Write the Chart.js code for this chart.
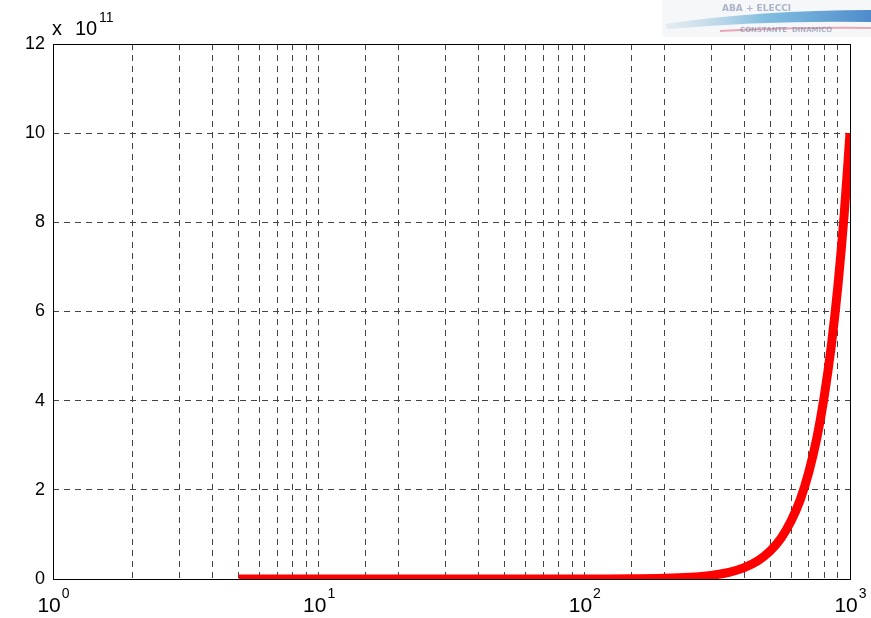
<!DOCTYPE html>
<html>
<head>
<meta charset="utf-8">
<script src="https://cdn.jsdelivr.net/npm/chart.js@4.4.0/dist/chart.umd.min.js"></script>
<style>
  html, body { margin: 0; padding: 0; background: #fff; }
  #wrap { width: 871px; height: 618px; position: relative; }
</style>
</head>
<body>
<div id="wrap"><canvas id="myChart" width="871" height="618"></canvas></div>
<script>
// x values (log axis) and y values, y in units of 10^11
let xValues = [5, 10, 20, 50, 100, 150, 200, 250, 300, 350, 400, 450, 500, 550, 600, 650, 700, 750, 800, 850, 900, 950, 1000];
let yValues = [0, 0, 0, 0.0001, 0.001, 0.005, 0.016, 0.039, 0.081, 0.15, 0.256, 0.41, 0.625, 0.915, 1.3, 1.78, 2.4, 3.16, 4.1, 5.22, 6.56, 8.15, 10.0];
let xDecades = [1, 10, 100, 1000];
let xDecadeLabels = ['0', '1', '2', '3'];
let yMultiplier = '11';

let points = xValues.map((x, i) => ({ x: x, y: yValues[i] }));
let fontFam = '"Liberation Sans", Arial, sans-serif';

// MATLAB-style box, superscript labels, and the little logo
let extras = {
    id: 'extras',
    afterDraw(chart) {
        let ctx = chart.ctx;
        let a = chart.chartArea;
        let xs = chart.scales.x;
        ctx.save();
        ctx.strokeStyle = '#000';
        ctx.lineWidth = 1;
        ctx.strokeRect(a.left + 0.5, a.top + 0.5, a.right - a.left, a.bottom - a.top);

        // x decade labels 10^n
        ctx.fillStyle = '#000';
        ctx.textBaseline = 'alphabetic';
        ctx.textAlign = 'left';
        xDecades.forEach((d, i) => {
            let px = xs.getPixelForValue(d);
            ctx.font = '21px ' + fontFam;
            let w1 = ctx.measureText('10').width;
            ctx.font = '14px ' + fontFam;
            let w2 = ctx.measureText(xDecadeLabels[i]).width;
            let x0 = px - (w1 + w2) / 2;
            ctx.font = '21px ' + fontFam;
            ctx.fillText('10', x0, 612);
            ctx.font = '14px ' + fontFam;
            ctx.fillText(xDecadeLabels[i], x0 + w1 + 1, 598);
        });

        // multiplier
        ctx.font = '20px ' + fontFam;
        ctx.fillText('x', 52, 35);
        ctx.fillText('10', 75, 35);
        ctx.font = '14px ' + fontFam;
        ctx.fillText(yMultiplier, 99, 22);

        // rough logo
        let g = ctx.createLinearGradient(660, 0, 871, 0);
        g.addColorStop(0, 'rgba(200,215,225,0.3)');
        g.addColorStop(0.5, 'rgba(90,170,215,0.75)');
        g.addColorStop(1, 'rgba(50,120,195,0.85)');
        ctx.fillStyle = '#f5f7f9';
        ctx.fillRect(662, 0, 209, 37);
        ctx.beginPath();
        ctx.moveTo(665, 24);
        ctx.quadraticCurveTo(760, 10, 871, 10);
        ctx.lineTo(871, 22);
        ctx.quadraticCurveTo(770, 20, 668, 29);
        ctx.closePath();
        ctx.fillStyle = g;
        ctx.fill();
        ctx.strokeStyle = 'rgba(220,90,120,0.5)';
        ctx.lineWidth = 2;
        ctx.beginPath();
        ctx.moveTo(720, 31);
        ctx.quadraticCurveTo(800, 27, 871, 28);
        ctx.stroke();
        ctx.fillStyle = 'rgba(110,125,160,0.55)';
        ctx.font = 'bold 9px "DejaVu Sans", sans-serif';
        ctx.fillText('ABA + ELECCI', 722, 11);
        ctx.font = 'bold 7px "DejaVu Sans", sans-serif';
        ctx.fillText('CONSTANTE  DINAMICO', 740, 32);
        ctx.restore();
    }
};

let myChart = document.getElementById('myChart').getContext('2d');

let massChart = new Chart(myChart, {
    type: 'line',
    data: {
        datasets: [{
            data: points,
            borderColor: '#ff0000',
            borderWidth: 9,
            borderCapStyle: 'butt',
            borderJoinStyle: 'round',
            pointRadius: 0,
            tension: 0.3,
            fill: false
        }]
    },
    options: {
        responsive: false,
        animation: false,
        layout: { padding: { left: 0, right: 21, top: 44, bottom: 0 } },
        plugins: {
            legend: { display: false },
            tooltip: { enabled: false }
        },
        scales: {
            x: {
                type: 'logarithmic',
                min: 1,
                max: 1000,
                afterFit: s => { s.height = 39; },
                grid: { color: '#444', lineWidth: 1, drawTicks: false },
                border: { display: false, dash: [6, 5] },
                ticks: { callback: () => '', padding: 0, autoSkip: false }
            },
            y: {
                min: 0,
                max: 12,
                afterFit: s => { s.width = 53; },
                grid: { color: '#444', lineWidth: 1, drawTicks: false },
                border: { display: false, dash: [6, 5] },
                ticks: {
                    stepSize: 2,
                    padding: 8,
                    color: '#000',
                    font: { family: fontFam, size: 18 }
                }
            }
        }
    },
    plugins: [extras]
});
</script>
</body>
</html>
